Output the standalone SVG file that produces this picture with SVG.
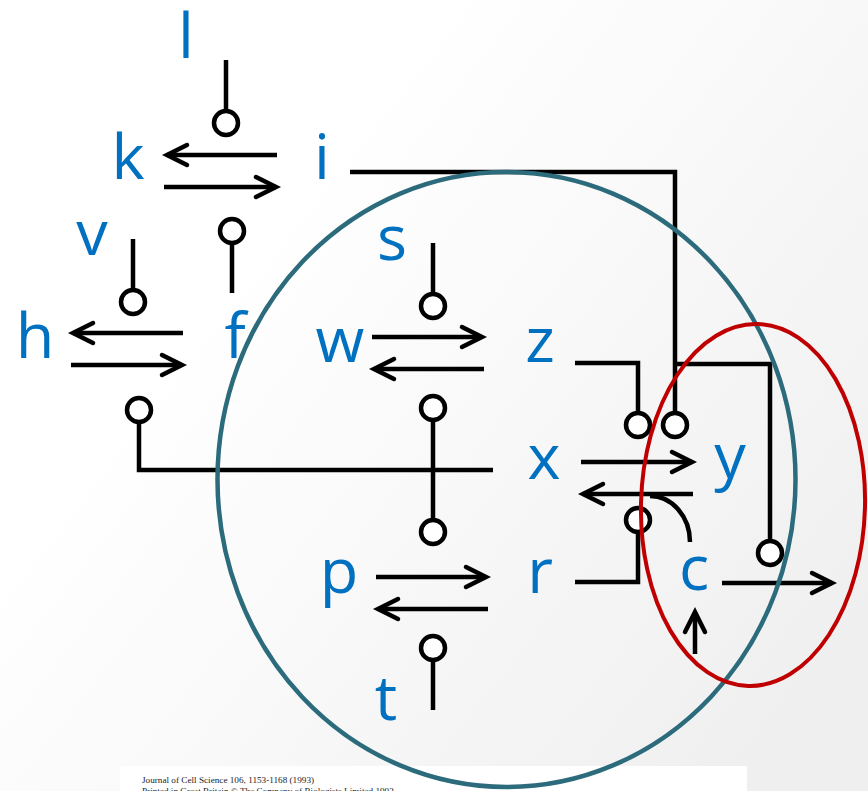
<svg xmlns="http://www.w3.org/2000/svg" width="868" height="791" viewBox="0 0 868 791">
<defs>
<linearGradient id="bg" x1="0.3" y1="0.3" x2="1" y2="0.8">
<stop offset="0" stop-color="#ffffff"/>
<stop offset="1" stop-color="#efefef"/>
</linearGradient>
<marker id="ah" markerUnits="userSpaceOnUse" markerWidth="30" markerHeight="30" viewBox="-25 -15 30 30" refX="0" refY="0" orient="auto" overflow="visible">
<path d="M -20 -10 L 0 0 L -20 10" fill="none" stroke="#000" stroke-width="4.5" stroke-linecap="round" stroke-linejoin="miter"/>
</marker>
<style>
.lbl{font-family:"Open Sans","DejaVu Sans",sans-serif;font-size:63px;fill:#0070c0;text-anchor:middle}
.ln{fill:none;stroke:#000;stroke-width:4.5}
.ar{fill:none;stroke:#000;stroke-width:4.5;marker-end:url(#ah)}
.inh{fill:#fff;stroke:#000;stroke-width:4.5}
.ref{font-family:"Liberation Serif","Times New Roman",serif;font-size:9.2px;fill:#222}
</style>
</defs>
<rect x="0" y="0" width="868" height="791" fill="url(#bg)"/>
<rect x="120" y="766" width="627" height="25" fill="#ffffff"/>
<text class="ref" x="142" y="783">Journal of Cell Science 106, 1153-1168 (1993)</text>
<text class="ref" x="142" y="794">Printed in Great Britain © The Company of Biologists Limited 1993</text>

<g id="connectors">
<path class="ln" d="M226 60 V111"/><circle class="inh" cx="226" cy="123" r="12"/>
<path class="ar" d="M277 155 H167"/>
<path class="ar" d="M164 187 H276"/>
<circle class="inh" cx="232" cy="231" r="12"/><path class="ln" d="M232 243 V293"/>
<path class="ln" d="M133 239 V290"/><circle class="inh" cx="133" cy="302" r="12"/>
<path class="ar" d="M183 333 H73"/>
<path class="ar" d="M71 365 H182"/>
<circle class="inh" cx="139" cy="410" r="12"/><path class="ln" d="M139 422 V470 H493"/>
<path class="ln" d="M433 243 V294"/><circle class="inh" cx="433" cy="306" r="12"/>
<path class="ar" d="M372 337 H482"/>
<path class="ar" d="M484 369 H374"/>
<path class="ln" d="M433 420 V520"/><circle class="inh" cx="433" cy="408" r="12"/><circle class="inh" cx="433" cy="532" r="12"/>
<path class="ar" d="M376 577 H486"/>
<path class="ar" d="M488 609 H378"/>
<circle class="inh" cx="433" cy="648" r="12"/><path class="ln" d="M433 660 V710"/>
<path class="ln" d="M350 172 H675 V413"/><circle class="inh" cx="675" cy="425" r="12"/>
<path class="ln" d="M575 363 H638 V413"/><circle class="inh" cx="638" cy="425" r="12"/>
<path class="ln" d="M675 364 H770 V541"/><circle class="inh" cx="770" cy="553" r="12"/>
<path class="ar" d="M581 462 H692"/>
<path class="ar" d="M693 494 H583"/>
<circle class="inh" cx="638" cy="520" r="12"/><path class="ln" d="M638 532 V582 H575"/>
<path class="ln" d="M650 496 A 40 46 0 0 1 690 542"/>
<path class="ar" d="M722 583 H832"/>
<path class="ar" d="M695 654 V612"/>
</g>

<g id="node-l"><text class="lbl" x="186" y="58">l</text></g>
<g id="node-k"><text class="lbl" x="128" y="179">k</text></g>
<g id="node-i"><text class="lbl" x="322" y="179">i</text></g>
<g id="node-v"><text class="lbl" x="92" y="255">v</text></g>
<g id="node-h"><text class="lbl" x="35" y="358">h</text></g>
<g id="node-f"><text class="lbl" x="235" y="358">f</text></g>
<g id="node-s"><text class="lbl" x="392" y="260">s</text></g>
<g id="node-w"><text class="lbl" x="340" y="362">w</text></g>
<g id="node-z"><text class="lbl" x="540" y="362">z</text></g>
<g id="node-x"><text class="lbl" x="544" y="479">x</text></g>
<g id="node-y"><text class="lbl" x="730" y="478">y</text></g>
<g id="node-p"><text class="lbl" x="339" y="593">p</text></g>
<g id="node-r"><text class="lbl" x="540" y="593">r</text></g>
<g id="node-t"><text class="lbl" x="386" y="720">t</text></g>
<g id="node-c"><text class="lbl" x="694" y="590">c</text></g>

<g id="groups">
<ellipse cx="506.5" cy="479.5" rx="289" ry="307.5" fill="none" stroke="#2b6b7b" stroke-width="4.5"/>
<ellipse cx="753" cy="505" rx="112" ry="181" fill="none" stroke="#c00000" stroke-width="4" transform="rotate(1.5 753 505)"/>
</g>
</svg>
